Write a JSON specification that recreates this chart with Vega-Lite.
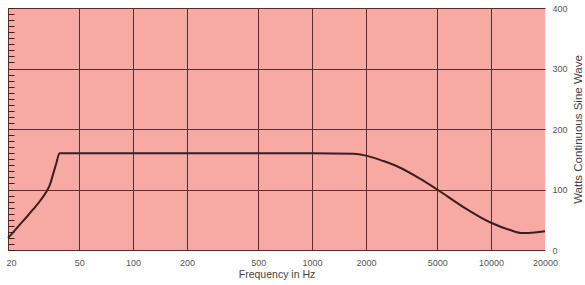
{
  "$schema": "https://vega.github.io/schema/vega-lite/v6.json",
  "autosize": "none",
  "width": 537,
  "height": 242,
  "padding": {"left": 8, "top": 8, "right": 40, "bottom": 35},
  "background": "white",
  "config": {
    "view": {"fill": "#f7aaa3", "stroke": null},
    "font": "Liberation Sans"
  },
  "data": {"values": [
    {"f": 20, "w": 20},
    {"f": 21.5, "w": 30},
    {"f": 23.3, "w": 42},
    {"f": 25.5, "w": 55},
    {"f": 27.6, "w": 67},
    {"f": 30.2, "w": 81},
    {"f": 33, "w": 98},
    {"f": 34.4, "w": 109},
    {"f": 35.7, "w": 125},
    {"f": 37.2, "w": 143},
    {"f": 38.8, "w": 160},
    {"f": 100, "w": 160},
    {"f": 500, "w": 160},
    {"f": 1000, "w": 160},
    {"f": 1700, "w": 159},
    {"f": 2000, "w": 156},
    {"f": 2500, "w": 147},
    {"f": 3000, "w": 138},
    {"f": 4000, "w": 118},
    {"f": 5000, "w": 100},
    {"f": 7000, "w": 71},
    {"f": 10000, "w": 45},
    {"f": 12750, "w": 33},
    {"f": 15000, "w": 28},
    {"f": 17500, "w": 29},
    {"f": 20000, "w": 31}
  ]},
  "layer": [
    {
      "mark": {"type": "line", "color": "#3b1f1f", "strokeWidth": 2, "interpolate": "monotone"},
      "encoding": {
        "x": {
          "field": "f", "type": "quantitative",
          "scale": {"type": "log", "domain": [20, 20000], "nice": false},
          "axis": {
            "values": [20, 50, 100, 200, 500, 1000, 2000, 5000, 10000, 20000],
            "format": "d",
            "title": "Frequency in Hz",
            "titleFont": "Liberation Sans",
            "titleFontSize": 10.5,
            "titleFontWeight": "normal",
            "titleColor": "#444",
            "titlePadding": 2,
            "labelFontSize": 9,
            "labelColor": "#555",
            "labelPadding": 8,
            "labelFlush": false,
            "labelOffset": {"condition": {"test": "datum.value <= 20", "value": 3}, "value": 0},
            "ticks": false,
            "domain": false,
            "grid": true,
            "gridColor": "#5a2d2d",
            "gridWidth": 1,
            "gridOpacity": {"condition": {"test": "datum.value >= 20000", "value": 0}, "value": 1}
          }
        },
        "y": {
          "field": "w", "type": "quantitative",
          "scale": {"domain": [0, 400], "nice": false},
          "axis": {
            "orient": "right",
            "values": [0, 100, 200, 300, 400],
            "title": "Watts Continuous Sine Wave",
            "titleAngle": 270,
            "titleFont": "Liberation Sans",
            "titleFontSize": 11.5,
            "titleFontWeight": "normal",
            "titleColor": "#444",
            "titlePadding": 16,
            "labelFontSize": 9,
            "labelColor": "#555",
            "labelPadding": 7,
            "labelFlush": false,
            "ticks": false,
            "domain": false,
            "grid": true,
            "gridColor": "#5a2d2d",
            "gridWidth": 1,
            "gridOpacity": 1
          }
        }
      }
    },
    {
      "mark": {"type": "point", "opacity": 0},
      "encoding": {
        "y": {
          "field": "w", "type": "quantitative",
          "axis": {
            "orient": "left",
            "values": [0,10,20,30,40,50,60,70,80,90,100,110,120,130,140,150,160,170,180,190,200,210,220,230,240,250,260,270,280,290,300,310,320,330,340,350,360,370,380,390,400],
            "labels": false,
            "title": null,
            "domain": false,
            "grid": false,
            "ticks": true,
            "tickSize": 6,
            "tickColor": "#3b1f1f",
            "tickWidth": 1,
            "offset": -6
          }
        }
      }
    }
  ],
  "resolve": {"axis": {"y": "independent"}}
}
